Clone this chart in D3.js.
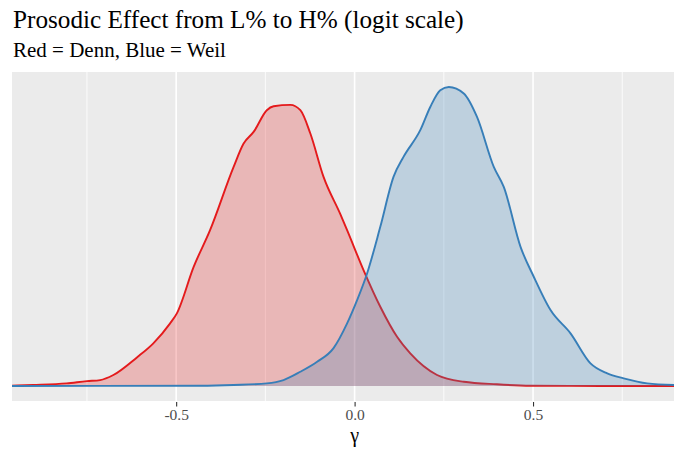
<!DOCTYPE html>
<html>

<head>
    <title>Prosodic Effect</title>
    <script src="https://cdn.jsdelivr.net/npm/d3@7"></script>
    <style>
        body { margin: 0; background: #fff; }
    </style>
</head>

<body>
    <script>
        const width = 674;
        const height = 449;
        const serif = "'Liberation Serif', 'Times New Roman', Times, serif";

        // density curves (gamma, density)
        const dennX = [-0.96, -0.901, -0.807, -0.75, -0.713, -0.676, -0.61, -0.564, -0.517, -0.498, -0.451, -0.405,
            -0.339, -0.311, -0.283, -0.246, -0.227, -0.18, -0.152, -0.124, -0.087, -0.04, -0.021, 0.025, 0.072,
            0.119, 0.156, 0.231, 0.306, 0.399, 0.493, 0.689, 0.895];
        const dennY = [0.003, 0.009, 0.023, 0.043, 0.052, 0.096, 0.249, 0.371, 0.545, 0.632, 1.036, 1.355,
            1.905, 2.108, 2.209, 2.398, 2.432, 2.444, 2.398, 2.195, 1.818, 1.494, 1.355, 1.008, 0.689,
            0.428, 0.284, 0.096, 0.037, 0.015, 0.003, 0.001, 0.0];

        const weilX = [-0.96, -0.433, -0.339, -0.246, -0.199, -0.152, -0.105, -0.059, -0.021, 0.007, 0.035, 0.072,
            0.109, 0.137, 0.184, 0.212, 0.24, 0.264, 0.306, 0.343, 0.39, 0.418, 0.465, 0.502, 0.549, 0.605,
            0.661, 0.708, 0.754, 0.82, 0.895];
        const weilY = [0.001, 0.003, 0.009, 0.023, 0.052, 0.124, 0.211, 0.33, 0.545, 0.747, 0.979, 1.384,
            1.818, 1.992, 2.224, 2.426, 2.571, 2.6, 2.543, 2.339, 1.905, 1.731, 1.21, 0.95, 0.66, 0.458,
            0.197, 0.11, 0.067, 0.023, 0.009];

        const majorTicks = [-0.5, 0.0, 0.5];
        const minorTicks = [-0.75, -0.25, 0.25, 0.75];

        const series = [
            { name: "Denn", xs: dennX, ys: dennY, color: "#E41A1C" },
            { name: "Weil", xs: weilX, ys: weilY, color: "#377EB8" }
        ];

        const panel = { left: 12, right: 674, top: 72, bottom: 401 };

        const x = d3.scaleLinear()
            .domain([-0.96, 0.895])
            .range([panel.left, panel.right]);

        const yMax = d3.max(series, s => d3.max(s.ys));
        const pad = yMax * 0.05;
        const y = d3.scaleLinear()
            .domain([-pad, yMax + pad])
            .range([panel.bottom, panel.top]);

        const svg = d3.select("body").append("svg")
            .attr("width", width)
            .attr("height", height)
            .attr("viewBox", [0, 0, width, height]);

        svg.append("text")
            .attr("x", 13).attr("y", 27.5)
            .attr("font-family", serif)
            .attr("font-size", 25.2)
            .attr("fill", "#000")
            .text("Prosodic Effect from L% to H% (logit scale)");

        svg.append("text")
            .attr("x", 13).attr("y", 57)
            .attr("font-family", serif)
            .attr("font-size", 21)
            .attr("fill", "#000")
            .text("Red = Denn, Blue = Weil");

        svg.append("defs").append("clipPath").attr("id", "clip")
            .append("rect")
            .attr("x", panel.left).attr("y", panel.top)
            .attr("width", panel.right - panel.left)
            .attr("height", panel.bottom - panel.top);

        svg.append("rect")
            .attr("x", panel.left).attr("y", panel.top)
            .attr("width", panel.right - panel.left)
            .attr("height", panel.bottom - panel.top)
            .attr("fill", "#EBEBEB");

        // grid
        svg.append("g").selectAll("line")
            .data(minorTicks)
            .join("line")
            .attr("x1", d => x(d)).attr("x2", d => x(d))
            .attr("y1", panel.top).attr("y2", panel.bottom)
            .attr("stroke", "#fff").attr("stroke-width", 0.8);

        svg.append("g").selectAll("line")
            .data(majorTicks)
            .join("line")
            .attr("x1", d => x(d)).attr("x2", d => x(d))
            .attr("y1", panel.top).attr("y2", panel.bottom)
            .attr("stroke", "#fff").attr("stroke-width", 1.6);

        const area = d3.area()
            .x(d => x(d[0]))
            .y0(y(0))
            .y1(d => y(d[1]))
            .curve(d3.curveMonotoneX);

        const line = d3.line()
            .x(d => x(d[0]))
            .y(d => y(d[1]))
            .curve(d3.curveMonotoneX);

        const plot = svg.append("g").attr("clip-path", "url(#clip)");

        series.forEach(s => {
            const pts = s.xs.map((v, i) => [v, s.ys[i]]);
            const g = plot.append("g");
            g.append("path")
                .datum(pts)
                .attr("d", area)
                .attr("fill", s.color)
                .attr("fill-opacity", 0.25);
            g.append("path")
                .datum(pts)
                .attr("d", line)
                .attr("fill", "none")
                .attr("stroke", s.color)
                .attr("stroke-width", 1.9);
        });

        // x axis
        const xAxis = d3.axisBottom(x)
            .tickValues(majorTicks)
            .tickFormat(d3.format(".1f"))
            .tickSizeInner(4.5)
            .tickSizeOuter(0)
            .tickPadding(2);

        const gx = svg.append("g")
            .attr("transform", `translate(0,${panel.bottom + 1})`)
            .call(xAxis)
            .attr("font-family", serif);
        gx.select(".domain").remove();
        gx.selectAll(".tick line").attr("stroke", "#333").attr("stroke-width", 1.1);
        gx.selectAll(".tick text")
            .attr("font-family", serif)
            .attr("font-size", 15.5)
            .attr("fill", "#4D4D4D")
            .text(d => d3.format(".1f")(d).replace("−", "-"));

        svg.append("text")
            .attr("x", x(0)).attr("y", 442)
            .attr("text-anchor", "middle")
            .attr("font-family", serif)
            .attr("font-size", 20)
            .attr("fill", "#000")
            .text("γ");
    </script>
</body>

</html>
